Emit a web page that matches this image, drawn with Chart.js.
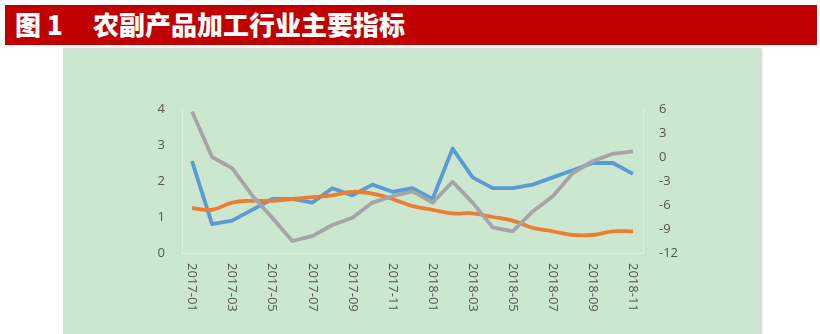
<!DOCTYPE html>
<html>
<head>
<meta charset="utf-8">
<script src="https://cdn.jsdelivr.net/npm/chart.js@4"></script>
<style>
  html, body { margin: 0; padding: 0; background: #fff; }
  body { width: 820px; height: 334px; position: relative; overflow: hidden; }
  .title-bar {
    position: absolute; left: 5px; top: 5px; width: 812px; height: 40px;
    background: #C00000;
  }
  .title-bar span {
    position: absolute; top: 0; line-height: 42px;
    color: #fff; font: 900 26px "Noto Sans CJK SC", sans-serif;
  }
  .panel {
    position: absolute; left: 63px; top: 48px; width: 697px; height: 290px;
    background: #CCE7CF;
    border-top: 1px solid #d6dcd6;
    box-shadow: 2px 0 2px rgba(0, 0, 0, 0.18);
  }
  .panel canvas { position: absolute; left: 0; top: 0; }
</style>
</head>
<body>
<div class="title-bar">
  <span style="left:10px">图 1</span>
  <span style="left:88px">农副产品加工行业主要指标</span>
</div>
<div class="panel">
  <canvas id="mainChart" width="697" height="286"></canvas>
</div>
<script>
// 月份
const months = ['2017-01', '2017-02', '2017-03', '2017-04', '2017-05', '2017-06',
  '2017-07', '2017-08', '2017-09', '2017-10', '2017-11', '2017-12',
  '2018-01', '2018-02', '2018-03', '2018-04', '2018-05', '2018-06',
  '2018-07', '2018-08', '2018-09', '2018-10', '2018-11'];

// 左轴两条线
const blueSeries = [2.55, 0.8, 0.9, 1.2, 1.5, 1.5, 1.4, 1.8, 1.6, 1.9, 1.7, 1.8,
  1.5, 2.9, 2.1, 1.8, 1.8, 1.9, 2.1, 2.3, 2.5, 2.5, 2.2];
const orangeSeries = [1.25, 1.2, 1.4, 1.45, 1.45, 1.5, 1.55, 1.6, 1.7, 1.65, 1.5, 1.3,
  1.2, 1.1, 1.1, 1.0, 0.9, 0.7, 0.6, 0.5, 0.5, 0.6, 0.6];

// 右轴
const graySeries = [5.7, 0, -1.4, -4.8, -7.6, -10.5, -9.9, -8.5, -7.6, -5.7, -4.9, -4.3,
  -5.7, -3.1, -5.7, -8.8, -9.3, -6.8, -4.9, -2.0, -0.5, 0.4, 0.7];

const leftTicks = [0, 1, 2, 3, 4];
const rightTicks = [-12, -9, -6, -3, 0, 3, 6];

const tickFont = { family: '"Open Sans", sans-serif', size: 13 };
const tickColor = '#555555';

// 竖排的月份标签，隔一个画一个
const monthLabels = {
  id: 'monthLabels',
  afterDraw(chart) {
    const ctx = chart.ctx;
    const xScale = chart.scales.x;
    ctx.save();
    ctx.fillStyle = tickColor;
    ctx.font = '13px "Open Sans", sans-serif';
    ctx.textAlign = 'left';
    ctx.textBaseline = 'middle';
    months.forEach((m, i) => {
      if (i % 2 !== 0) return;
      ctx.save();
      ctx.translate(xScale.getPixelForValue(i), chart.chartArea.bottom + 10);
      ctx.rotate(Math.PI / 2);
      ctx.fillText(m, 0, 0);
      ctx.restore();
    });
    ctx.restore();
  }
};

new Chart(document.getElementById('mainChart').getContext('2d'), {
  type: 'line',
  data: {
    labels: months,
    datasets: [{
      label: '指标一',
      data: blueSeries,
      borderColor: '#5B9BD5',
      borderWidth: 3.8,
      pointRadius: 0,
      tension: 0,
      yAxisID: 'y',
      order: 2
    }, {
      label: '指标二',
      data: orangeSeries,
      borderColor: '#ED7D31',
      borderWidth: 3.8,
      pointRadius: 0,
      tension: 0.4,
      yAxisID: 'y',
      order: 1
    }, {
      label: '指标三',
      data: graySeries,
      borderColor: '#A5A5A5',
      borderWidth: 3.8,
      pointRadius: 0,
      tension: 0,
      yAxisID: 'y1',
      order: 0
    }]
  },
  options: {
    responsive: false,
    animation: false,
    devicePixelRatio: 1,
    layout: { padding: { top: 60, left: 0, right: 0, bottom: 0 } },
    plugins: { legend: { display: false }, tooltip: { enabled: false } },
    elements: { line: { borderJoinStyle: 'round' } },
    scales: {
      x: {
        offset: true,
        grid: { display: false, drawTicks: false },
        border: { color: 'rgba(255,255,255,0.35)' },
        ticks: { display: false },
        afterFit(scale) { scale.height = 82; }
      },
      y: {
        position: 'left',
        min: 0,
        max: 4,
        afterBuildTicks(scale) { scale.ticks = leftTicks.map(v => ({ value: v })); },
        grid: { display: false, drawTicks: false },
        border: { color: 'rgba(255,255,255,0.35)' },
        ticks: { font: tickFont, color: tickColor, padding: 17 },
        afterFit(scale) { scale.width = 119; }
      },
      y1: {
        position: 'right',
        min: -12,
        max: 6,
        afterBuildTicks(scale) { scale.ticks = rightTicks.map(v => ({ value: v })); },
        grid: { display: false, drawTicks: false },
        border: { color: 'rgba(255,255,255,0.35)' },
        ticks: { font: tickFont, color: tickColor, padding: 16 },
        afterFit(scale) { scale.width = 117; }
      }
    }
  },
  plugins: [monthLabels]
});
</script>
</body>
</html>
